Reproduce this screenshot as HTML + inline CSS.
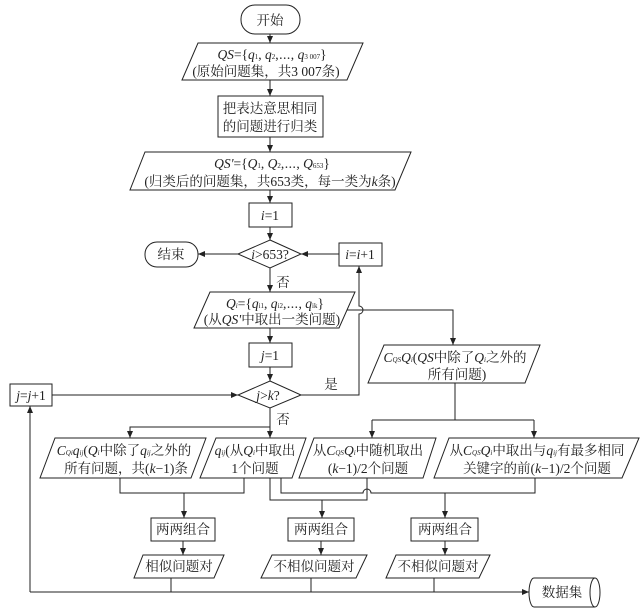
<!DOCTYPE html>
<html><head><meta charset="utf-8"><style>
html,body{margin:0;padding:0;background:#fff}
svg{display:block}
text{font-family:"Liberation Serif","Noto Serif CJK SC",serif;font-size:13.5px;fill:#222}
.i{font-style:italic}
</style></head><body>
<svg width="643" height="611" viewBox="0 0 643 611" xmlns="http://www.w3.org/2000/svg">
<defs><marker id="a" markerWidth="8" markerHeight="8" refX="7" refY="4" orient="auto" markerUnits="userSpaceOnUse"><path d="M0,1 L7,4 L0,7 z" fill="#222"/></marker></defs>
<g fill="none" stroke="#222" stroke-width="1">
<rect x="241" y="5" width="59" height="29" rx="14"/>
<polygon points="198,43 363,43 347,80 182,80"/>
<rect x="218" y="96" width="105" height="41"/>
<polygon points="145,152 411,152 395,190 130,190"/>
<rect x="249" y="203" width="43" height="24"/>
<polygon points="270,240 301,254 270,268 238,254"/>
<rect x="145" y="242" width="53" height="25" rx="12"/>
<rect x="339" y="243" width="43" height="23"/>
<polygon points="210,292 355,292 339,328 194,328"/>
<rect x="249" y="343" width="43" height="24"/>
<polygon points="270,381 301,395 270,408 238,395"/>
<rect x="10" y="384" width="42" height="22"/>
<polygon points="384,345 540,345 525,383 368,383"/>
<polygon points="55,438 206,438 191,478 40,478"/>
<polygon points="216,438 306,438 292,478 200,478"/>
<polygon points="314,438 436,438 423,478 299,478"/>
<polygon points="449,438 639,438 622,478 434,478"/>
<rect x="151" y="518" width="64" height="23"/>
<rect x="288" y="518" width="66" height="23"/>
<rect x="411" y="518" width="67" height="23"/>
<polygon points="143,555 224,555 214,578 134,578"/>
<polygon points="272,555 367,555 356,578 261,578"/>
<polygon points="396,555 490,555 479,578 386,578"/>
<path d="M534,578 L595,578 A5,14.5 0 0 1 595,607 L534,607 A5,14.5 0 0 1 534,578 Z"/>
<path d="M595,578 A5,14.5 0 0 0 595,607"/>
<path d="M270,34 V43" marker-end="url(#a)"/>
<path d="M270,80 V96" marker-end="url(#a)"/>
<path d="M270,137 V152" marker-end="url(#a)"/>
<path d="M270,190 V203" marker-end="url(#a)"/>
<path d="M270,227 V240" marker-end="url(#a)"/>
<path d="M238,254 H198" marker-end="url(#a)"/>
<path d="M339,254 H301" marker-end="url(#a)"/>
<path d="M270,268 V292" marker-end="url(#a)"/>
<path d="M270,328 V343" marker-end="url(#a)"/>
<path d="M270,367 V381" marker-end="url(#a)"/>
<path d="M301,395 H359 V314 A4,4 0 0 0 359,306 V266" marker-end="url(#a)"/>
<path d="M347,310 H453 V345" marker-end="url(#a)"/>
<path d="M52,395 H238" marker-end="url(#a)"/>
<path d="M455,383 V420"/>
<path d="M372,420 H534"/>
<path d="M372,420 V438" marker-end="url(#a)"/>
<path d="M534,420 V438" marker-end="url(#a)"/>
<path d="M270,408 V438" marker-end="url(#a)"/>
<path d="M270,427 H130 V438" marker-end="url(#a)"/>
<path d="M120,478 V493 H244 V478"/>
<path d="M184,493 V518" marker-end="url(#a)"/>
<path d="M270,478 V500 H367 V478"/>
<path d="M322,500 V518" marker-end="url(#a)"/>
<path d="M281,478 V493 H363 A4,4 0 0 1 371,493 H535 V478"/>
<path d="M445,493 V518" marker-end="url(#a)"/>
<path d="M183,541 V555" marker-end="url(#a)"/>
<path d="M321,541 V555" marker-end="url(#a)"/>
<path d="M445,541 V555" marker-end="url(#a)"/>
<path d="M171,578 V592"/>
<path d="M311,578 V592"/>
<path d="M434,578 V592"/>
<path d="M30,592 H529" marker-end="url(#a)"/>
<path d="M30,592 V406" marker-end="url(#a)"/>
</g>
<g text-anchor="middle">
<text x="270" y="25">开始</text>
<text x="272" y="59"><tspan class="i">QS</tspan>={<tspan class="i">q</tspan><tspan font-size="7">1</tspan>, <tspan class="i">q</tspan><tspan font-size="7">2</tspan>,⋯, <tspan class="i">q</tspan><tspan font-size="7">3 007</tspan>}</text>
<text x="266" y="76">(原始问题集，共3 007条)</text>
<text x="270" y="113">把表达意思相同</text>
<text x="270" y="131">的问题进行归类</text>
<text x="272" y="168"><tspan class="i">QS'</tspan>={<tspan class="i">Q</tspan><tspan font-size="7">1</tspan>, <tspan class="i">Q</tspan><tspan font-size="7">2</tspan>,⋯, <tspan class="i">Q</tspan><tspan font-size="7">653</tspan>}</text>
<text x="270" y="186">(归类后的问题集，共653类，每一类为<tspan class="i">k</tspan>条)</text>
<text x="270" y="220"><tspan class="i">i</tspan>=1</text>
<text x="270" y="259" font-size="12.5"><tspan class="i">i</tspan>&gt;653?</text>
<text x="171" y="259">结束</text>
<text x="360" y="259"><tspan class="i">i</tspan>=<tspan class="i">i</tspan>+1</text>
<text x="283" y="287">否</text>
<text x="275" y="308"><tspan class="i">Q<tspan font-size="7">i</tspan></tspan>={<tspan class="i">q</tspan><tspan font-size="7">i1</tspan>, <tspan class="i">q</tspan><tspan font-size="7">i2</tspan>,⋯, <tspan class="i">q</tspan><tspan font-size="7">ik</tspan>}</text>
<text x="272" y="324">(从<tspan class="i">QS'</tspan>中取出一类问题)</text>
<text x="270" y="360"><tspan class="i">j</tspan>=1</text>
<text x="268" y="400"><tspan class="i">j</tspan>&gt;<tspan class="i">k</tspan>?</text>
<text x="31" y="400"><tspan class="i">j</tspan>=<tspan class="i">j</tspan>+1</text>
<text x="331" y="389">是</text>
<text x="283" y="424">否</text>
<text x="455" y="362"><tspan class="i">C</tspan><tspan font-size="7" class="i">QS</tspan><tspan class="i">Q<tspan font-size="7">i</tspan></tspan>(<tspan class="i">QS</tspan>中除了<tspan class="i">Q<tspan font-size="7">i</tspan></tspan>之外的</text>
<text x="457" y="379">所有问题)</text>
<text x="124" y="455"><tspan class="i">C</tspan><tspan font-size="7" class="i">Qi</tspan><tspan class="i">q<tspan font-size="7">ij</tspan></tspan>(<tspan class="i">Q<tspan font-size="7">i</tspan></tspan>中除了<tspan class="i">q<tspan font-size="7">ij</tspan></tspan>之外的</text>
<text x="126" y="473">所有问题，共(<tspan class="i">k</tspan>−1)条</text>
<text x="255" y="455"><tspan class="i">q<tspan font-size="7">ij</tspan></tspan>(从<tspan class="i">Q<tspan font-size="7">i</tspan></tspan>中取出</text>
<text x="255" y="473">1个问题</text>
<text x="368" y="455">从<tspan class="i">C</tspan><tspan font-size="7" class="i">QS</tspan><tspan class="i">Q<tspan font-size="7">i</tspan></tspan>中随机取出</text>
<text x="368" y="473">(<tspan class="i">k</tspan>−1)/2个问题</text>
<text x="537" y="455">从<tspan class="i">C</tspan><tspan font-size="7" class="i">QS</tspan><tspan class="i">Q<tspan font-size="7">i</tspan></tspan>中取出与<tspan class="i">q<tspan font-size="7">ij</tspan></tspan>有最多相同</text>
<text x="537" y="473">关键字的前(<tspan class="i">k</tspan>−1)/2个问题</text>
<text x="183" y="534">两两组合</text>
<text x="321" y="534">两两组合</text>
<text x="445" y="534">两两组合</text>
<text x="179" y="571">相似问题对</text>
<text x="314" y="571">不相似问题对</text>
<text x="438" y="571">不相似问题对</text>
<text x="562" y="597">数据集</text>
</g>
</svg>
</body></html>
